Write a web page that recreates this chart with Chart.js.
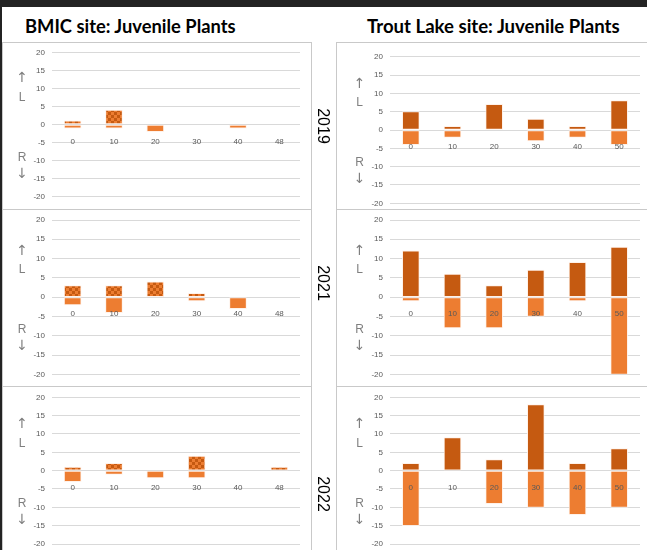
<!DOCTYPE html>
<html>
<head>
<meta charset="utf-8">
<script src="https://cdn.jsdelivr.net/npm/chart.js@4.4.0/dist/chart.umd.min.js"></script>
<style>
  html, body { margin: 0; padding: 0; background: #fff; }
  body { width: 647px; height: 550px; position: relative; overflow: hidden; font-family: 'Liberation Sans', sans-serif; }
  .strip-top { position: absolute; left: 0; top: 0; width: 647px; height: 7px; background: #232323; }
  .strip-left { position: absolute; left: 0; top: 0; width: 2px; height: 550px; background: #232323; }
  .title { position: absolute; top: 15px; font-family: Lato, sans-serif; font-weight: bold; font-size: 18px; line-height: 22px; color: #000; white-space: nowrap; }
  .panel { position: absolute; border: 1px solid #c9c9c9; box-sizing: border-box; }
  canvas { position: absolute; }
  .year { position: absolute; font-size: 16px; line-height: 16px; color: #000; white-space: nowrap; transform: translate(-50%, -50%) rotate(90deg); }
  .ax { position: absolute; color: #7f7f7f; font-size: 12px; line-height: 14px; transform: translate(-50%, -50%); }
  .ax.arrow { font-family: 'DejaVu Sans', sans-serif; font-size: 14px; }
</style>
</head>
<body>
<div class="strip-top"></div>
<div class="strip-left"></div>
<div class="title" id="t1" style="left:25px">BMIC site: Juvenile Plants</div>
<div class="title" id="t2" style="left:367px">Trout Lake site: Juvenile Plants</div>
<div id="stage"></div>
<div class="year" style="left:323px; top:126px">2019</div>
<div class="year" style="left:323px; top:283px">2021</div>
<div class="year" style="left:323px; top:494px">2022</div>

<script>
// categories (distance along transect)
const bmicCats = ['0', '10', '20', '30', '40', '48'];
const troutCats = ['0', '10', '20', '30', '40', '50'];

// y axis range
const yMin = -20;
const yMax = 20;
const yStep = 5;

// L = up, R = down
const bmic2019L = [1, 4, 0, 0, 0, 0];
const bmic2019R = [-1, -1, -2, 0, -1, 0];
const bmic2021L = [3, 3, 4, 1, 0, 0];
const bmic2021R = [-2, -4, 0, -1, -3, 0];
const bmic2022L = [1, 2, 0, 4, 0, 1];
const bmic2022R = [-3, -1, -2, -2, 0, 0];

const trout2019L = [5, 1, 7, 3, 1, 8];
const trout2019R = [-4, -2, 0, -3, -2, -4];
const trout2021L = [12, 6, 3, 7, 9, 13];
const trout2021R = [-1, -8, -8, -5, -1, -20];
const trout2022L = [2, 9, 3, 18, 2, 6];
const trout2022R = [-15, 0, -9, -10, -12, -10];

const darkOrange = '#C55A11';
const orange = '#ED7D31';

Chart.defaults.font.family = "'Liberation Sans', sans-serif";

// fit titles to their width in the picture
[['t1', 211], ['t2', 253]].forEach(([id, w]) => {
  const el = document.getElementById(id);
  el.style.fontSize = (18 * w / el.offsetWidth).toFixed(2) + 'px';
});

function checker() {
  const c = document.createElement('canvas');
  c.width = 6; c.height = 6;
  const g = c.getContext('2d');
  g.fillStyle = orange;
  g.fillRect(0, 0, 6, 6);
  g.fillStyle = darkOrange;
  g.fillRect(0, 0, 3, 3);
  g.fillRect(3, 3, 3, 3);
  return g.createPattern(c, 'repeat');
}

// panel frames: columns and rows
const cols = [
  { left: 2, width: 310, plotLeft: 52, plotRight: 300, axX: 22 },
  { left: 336, width: 320, plotLeft: 390, plotRight: 640, axX: 359.5 }
];
const rows = [42, 209, 386, 560];
const plotY = [
  [[52.3, 196.7], [220, 374.3], [397.3, 544]],
  [[56.7, 203.3], [220, 374.3], [397.3, 544]]
];
const yAxisW = 34;

const stage = document.getElementById('stage');

function makePanel(ci, ri, cats, L, R, lFill) {
  const col = cols[ci];
  const top = rows[ri];
  const bottom = rows[ri + 1];

  const frame = document.createElement('div');
  frame.className = 'panel';
  frame.style.left = col.left + 'px';
  frame.style.top = top + 'px';
  frame.style.width = col.width + 'px';
  frame.style.height = (bottom - top + 1) + 'px';
  stage.appendChild(frame);

  const cx = col.left + 1;
  const cy = top + 1;
  const cw = Math.min(col.width - 2, 647 - cx);
  const ch = Math.min(bottom - top - 1, 550 - cy);
  const cv = document.createElement('canvas');
  cv.width = cw; cv.height = ch;
  cv.style.left = cx + 'px';
  cv.style.top = cy + 'px';
  stage.appendChild(cv);

  const [py0, py1] = plotY[ci][ri];
  const chart = new Chart(cv, {
    type: 'bar',
    data: {
      labels: cats,
      datasets: [
        { label: 'L', data: L.map(v => v || null), backgroundColor: lFill,
          borderColor: 'rgba(255,240,230,0.85)', borderWidth: 1, borderSkipped: false, barThickness: 17 },
        { label: 'R', data: R.map(v => v || null), backgroundColor: orange,
          borderColor: 'rgba(255,240,230,0.85)', borderWidth: 1, borderSkipped: false, barThickness: 17 }
      ]
    },
    options: {
      responsive: false,
      animation: false,
      events: [],
      layout: {
        padding: {
          left: col.plotLeft - cx - yAxisW,
          right: cx + cw - col.plotRight,
          top: py0 - cy,
          bottom: cy + ch - py1
        }
      },
      plugins: { legend: { display: false }, tooltip: { enabled: false } },
      scales: {
        x: {
          stacked: true,
          position: { y: 0 },
          grid: { display: false },
          border: { display: false },
          ticks: { z: 1, color: '#595959', font: { size: 8 }, padding: 4, autoSkip: false, maxRotation: 0 },
          afterFit: s => { s.paddingLeft = 0; s.paddingRight = 0; }
        },
        y: {
          stacked: true,
          min: yMin,
          max: yMax,
          grid: { color: '#d9d9d9', drawTicks: false },
          border: { display: false },
          ticks: { stepSize: yStep, color: '#595959', font: { size: 8 }, padding: 7 },
          afterFit: s => { s.width = yAxisW; s.paddingTop = 0; s.paddingBottom = 0; }
        }
      }
    }
  });

  // axis direction labels next to the value axis
  const zero = chart.scales.y.getPixelForValue(0) + cy;
  [['\u2191', -47.5, true], ['L', -28, false], ['R', 32.3, false], ['\u2193', 48, true]].forEach(([txt, dy, arrow]) => {
    const d = document.createElement('div');
    d.className = arrow ? 'ax arrow' : 'ax';
    d.textContent = txt;
    d.style.left = col.axX + 'px';
    d.style.top = (zero + dy) + 'px';
    stage.appendChild(d);
  });
  return chart;
}

const pat = checker();
makePanel(0, 0, bmicCats, bmic2019L, bmic2019R, pat);
makePanel(0, 1, bmicCats, bmic2021L, bmic2021R, pat);
makePanel(0, 2, bmicCats, bmic2022L, bmic2022R, pat);
makePanel(1, 0, troutCats, trout2019L, trout2019R, darkOrange);
makePanel(1, 1, troutCats, trout2021L, trout2021R, darkOrange);
makePanel(1, 2, troutCats, trout2022L, trout2022R, darkOrange);
</script>
</body>
</html>
